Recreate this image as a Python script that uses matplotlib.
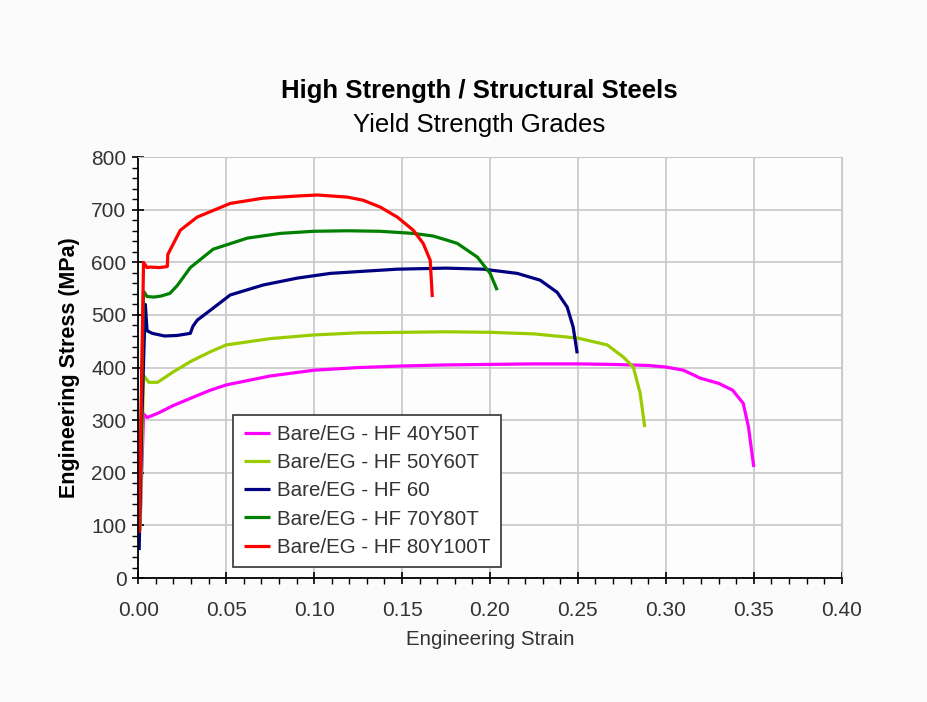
import matplotlib
matplotlib.use("Agg")
from matplotlib import pyplot as plt
from matplotlib.ticker import MultipleLocator, FormatStrFormatter

plt.rcParams['font.family'] = ['Liberation Sans', 'DejaVu Sans']

labels = ['Bare/EG - HF 40Y50T', 'Bare/EG - HF 50Y60T', 'Bare/EG - HF 60',
          'Bare/EG - HF 70Y80T', 'Bare/EG - HF 80Y100T']
colors = ['#ff00ff', '#99cc00', '#000080', '#008000', '#ff0000']

# strain / stress (MPa)
x_40 = [0.001, 0.003, 0.005, 0.011, 0.02, 0.03, 0.041, 0.05, 0.075, 0.1, 0.125, 0.15,
        0.175, 0.2, 0.225, 0.25, 0.27, 0.29, 0.30, 0.31, 0.3195, 0.33, 0.338, 0.344,
        0.347, 0.35]
y_40 = [100, 312, 305, 313, 328, 342, 357, 367, 384, 395, 400, 403, 405, 406, 407, 407,
        406, 404, 401, 395, 380, 370, 357, 332, 287, 211]

x_50 = [0.001, 0.003, 0.006, 0.011, 0.02, 0.03, 0.041, 0.05, 0.075, 0.1, 0.125, 0.15,
        0.175, 0.2, 0.225, 0.25, 0.2667, 0.2758, 0.2815, 0.2854, 0.288]
y_50 = [90, 385, 372, 372, 392, 412, 430, 443, 455, 462, 466, 467, 468, 467, 464, 456,
        443, 420, 401, 351, 287]

x_60 = [0.0005, 0.002, 0.004, 0.005, 0.008, 0.015, 0.022, 0.0296, 0.031, 0.0335, 0.041,
        0.0523, 0.0711, 0.0904, 0.1092, 0.1279, 0.1473, 0.175, 0.1962, 0.2155, 0.2286,
        0.2382, 0.2439, 0.2473, 0.2496]
y_60 = [53, 300, 520, 470, 465, 460, 461, 465, 478, 490, 509, 538, 557, 570, 579, 583,
        587, 589, 587, 579, 566, 543, 515, 477, 427]

x_70 = [0.0005, 0.003, 0.005, 0.009, 0.013, 0.018, 0.0222, 0.0296, 0.0426, 0.062, 0.0807,
        0.0995, 0.1188, 0.1376, 0.1564, 0.1677, 0.1757, 0.1814, 0.1928, 0.2001, 0.2041]
y_70 = [100, 545, 535, 534, 536, 541, 556, 590, 625, 646, 655, 659, 660, 659, 655, 650,
        642, 636, 610, 579, 547]

x_80 = [0.0005, 0.002, 0.003, 0.005, 0.0068, 0.012, 0.0165, 0.0168, 0.0239, 0.0335,
        0.0523, 0.0711, 0.0904, 0.1018, 0.1188, 0.1279, 0.1376, 0.1473, 0.1564, 0.162,
        0.166, 0.1672]
y_80 = [86, 400, 600, 590, 591, 590, 592, 615, 661, 686, 712, 722, 726, 728, 724, 718,
        705, 686, 661, 636, 604, 534]

series = [(x_40, y_40), (x_50, y_50), (x_60, y_60), (x_70, y_70), (x_80, y_80)]

fig = plt.figure(figsize=(9.28, 7.02), dpi=100)
fig.patch.set_facecolor('#fbfbfb')
ax = fig.add_axes([0.149, 0.1766, 0.758, 0.5996])
ax.set_facecolor('#fdfdfd')

for (xs, ys), lab, c in zip(series, labels, colors):
    ax.plot(xs, ys, color=c, lw=2.3, label=lab, solid_capstyle='butt')

ax.set_xlim(0, 0.4)
ax.set_ylim(0, 800)
ax.xaxis.set_major_locator(MultipleLocator(0.05))
ax.xaxis.set_minor_locator(MultipleLocator(0.01))
ax.yaxis.set_major_locator(MultipleLocator(100))
ax.yaxis.set_minor_locator(MultipleLocator(20))
ax.xaxis.set_major_formatter(FormatStrFormatter('%.2f'))
ax.grid(True, which='major', color='#c8c8c8', lw=1.2)
ax.set_axisbelow(True)
ax.tick_params(which='major', direction='inout', length=9, width=1.2,
               labelsize=15, labelcolor='#333333', pad=4)
ax.tick_params(axis='x', which='major', pad=12)
ax.tick_params(which='minor', direction='out', length=4, width=1)
for s in ['top', 'right']:
    ax.spines[s].set_color('#c8c8c8')
for s in ['left', 'bottom']:
    ax.spines[s].set_linewidth(1.3)

ax.set_xlabel('Engineering Strain', fontsize=14.8, color='#333333', labelpad=7)
ax.set_ylabel('Engineering Stress (MPa)', fontsize=15.5, fontweight='bold', labelpad=8)

fig.text(0.516, 0.870, 'High Strength / Structural Steels', ha='center', va='center',
         fontsize=18.5, fontweight='bold')
fig.text(0.516, 0.822, 'Yield Strength Grades', ha='center', va='center', fontsize=18.5)

leg = ax.legend(loc='lower left', bbox_to_anchor=(0.135, 0.026), fontsize=14.8,
                frameon=True, fancybox=False, framealpha=1, edgecolor='#333333',
                handlelength=1.3, handletextpad=0.35, labelspacing=0.45,
                borderpad=0.5, borderaxespad=0)
leg.get_frame().set_linewidth(1.2)
for t in leg.get_texts():
    t.set_color('#333333')

fig.savefig('out.png', dpi=100, facecolor=fig.get_facecolor())
